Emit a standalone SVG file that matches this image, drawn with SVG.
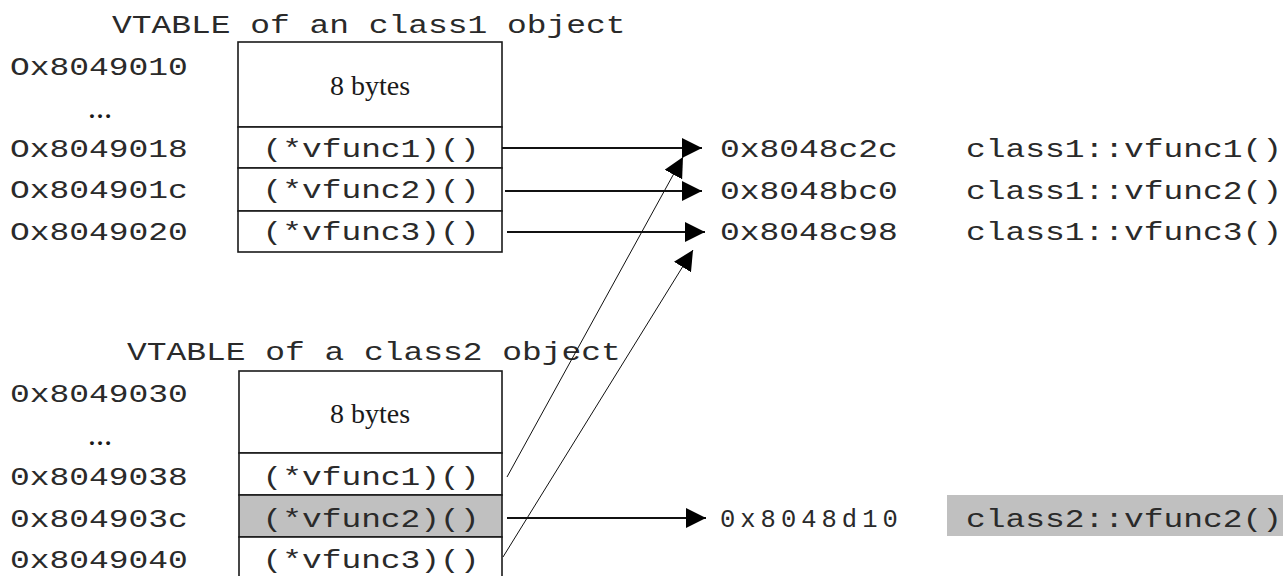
<svg xmlns="http://www.w3.org/2000/svg" width="1283" height="576" viewBox="0 0 1283 576">
  <style>
    .mono { font-family: "Liberation Mono", "DejaVu Sans Mono", monospace; font-size: 25.5px; fill: #2a2a2a; }
    .serif { font-family: "Liberation Serif", "DejaVu Serif", serif; font-size: 28px; fill: #1a1a1a; }
    .dots { font-family: "Liberation Serif", "DejaVu Serif", serif; font-size: 24px; font-weight: bold; fill: #1a1a1a; }
    .cell { fill: #ffffff; stroke: #1a1a1a; stroke-width: 1.6; }
    .hi { fill: #c0c0c0; }
    .ptr { stroke: #111; stroke-width: 1.8; fill: none; }
    .thin { stroke: #111; stroke-width: 1; fill: none; }
  </style>
  <defs>
    <marker id="head" viewBox="0 0 20 20" refX="20" refY="10" markerWidth="20" markerHeight="20" markerUnits="userSpaceOnUse" orient="auto">
      <path d="M0,0 L20,10 L0,20 Z" fill="#000"/>
    </marker>
  </defs>

  <rect width="1283" height="576" fill="#ffffff"/>

  <!-- vtable of class1 -->
  <g id="vtable1">
    <text class="mono" x="112" y="33" textLength="513.5" lengthAdjust="spacingAndGlyphs">VTABLE of an class1 object</text>
    <rect class="cell" x="238" y="42" width="264" height="85"/>
    <rect class="cell" x="238" y="127" width="264" height="41"/>
    <rect class="cell" x="238" y="168" width="264" height="43"/>
    <rect class="cell" x="238" y="211" width="264" height="41"/>
    <text class="serif" x="370" y="95" text-anchor="middle">8 bytes</text>
    <text class="mono" x="371" y="157" text-anchor="middle" textLength="217" lengthAdjust="spacingAndGlyphs">(*vfunc1)()</text>
    <text class="mono" x="371" y="198" text-anchor="middle" textLength="217" lengthAdjust="spacingAndGlyphs">(*vfunc2)()</text>
    <text class="mono" x="371" y="240" text-anchor="middle" textLength="217" lengthAdjust="spacingAndGlyphs">(*vfunc3)()</text>
    <text class="mono" x="10" y="75" textLength="177.75" lengthAdjust="spacingAndGlyphs">Ox8049010</text>
    <text class="dots" x="100" y="118" text-anchor="middle">…</text>
    <text class="mono" x="10" y="157" textLength="177.75" lengthAdjust="spacingAndGlyphs">Ox8049018</text>
    <text class="mono" x="10" y="198" textLength="177.75" lengthAdjust="spacingAndGlyphs">Ox804901c</text>
    <text class="mono" x="10" y="240" textLength="177.75" lengthAdjust="spacingAndGlyphs">Ox8049020</text>
  </g>

  <!-- vtable of class2 -->
  <g id="vtable2">
    <text class="mono" x="127" y="360" textLength="493.75" lengthAdjust="spacingAndGlyphs">VTABLE of a class2 object</text>
    <rect class="cell" x="239" y="371" width="263" height="82"/>
    <rect class="cell" x="239" y="453" width="263" height="42"/>
    <rect class="cell hi" x="239" y="495" width="263" height="42"/>
    <rect class="cell" x="239" y="537" width="263" height="44"/>
    <text class="serif" x="370" y="423" text-anchor="middle">8 bytes</text>
    <text class="mono" x="371" y="485" text-anchor="middle" textLength="217" lengthAdjust="spacingAndGlyphs">(*vfunc1)()</text>
    <text class="mono" x="371" y="527" text-anchor="middle" textLength="217" lengthAdjust="spacingAndGlyphs">(*vfunc2)()</text>
    <text class="mono" x="371" y="568" text-anchor="middle" textLength="217" lengthAdjust="spacingAndGlyphs">(*vfunc3)()</text>
    <text class="mono" x="10" y="402" textLength="177.75" lengthAdjust="spacingAndGlyphs">0x8049030</text>
    <text class="dots" x="100" y="445" text-anchor="middle">…</text>
    <text class="mono" x="10" y="485" textLength="177.75" lengthAdjust="spacingAndGlyphs">0x8049038</text>
    <text class="mono" x="10" y="527" textLength="177.75" lengthAdjust="spacingAndGlyphs">0x804903c</text>
    <text class="mono" x="10" y="568" textLength="177.75" lengthAdjust="spacingAndGlyphs">0x8049040</text>
  </g>

  <!-- function targets -->
  <g id="target-c2c">
    <text class="mono" x="720" y="157" textLength="177.75" lengthAdjust="spacingAndGlyphs">0x8048c2c</text>
    <text class="mono" x="966" y="157" textLength="316" lengthAdjust="spacingAndGlyphs">class1::vfunc1()</text>
  </g>
  <g id="target-bc0">
    <text class="mono" x="720" y="199" textLength="177.75" lengthAdjust="spacingAndGlyphs">0x8048bc0</text>
    <text class="mono" x="966" y="199" textLength="316" lengthAdjust="spacingAndGlyphs">class1::vfunc2()</text>
  </g>
  <g id="target-c98">
    <text class="mono" x="720" y="240" textLength="177.75" lengthAdjust="spacingAndGlyphs">0x8048c98</text>
    <text class="mono" x="966" y="240" textLength="316" lengthAdjust="spacingAndGlyphs">class1::vfunc3()</text>
  </g>
  <g id="target-d10">
    <rect class="hi" x="947" y="495" width="336" height="41"/>
    <text class="mono" x="720" y="527" textLength="177.75" lengthAdjust="spacing">0x8048d10</text>
    <text class="mono" x="966" y="527" textLength="316" lengthAdjust="spacingAndGlyphs">class2::vfunc2()</text>
  </g>

  <!-- pointer connectors -->
  <g id="connectors">
    <line class="ptr" x1="502" y1="148" x2="702" y2="148" marker-end="url(#head)"/>
    <line class="ptr" x1="505" y1="191" x2="702" y2="191" marker-end="url(#head)"/>
    <line class="ptr" x1="507" y1="232" x2="705" y2="232" marker-end="url(#head)"/>
    <line class="ptr" x1="507" y1="518" x2="706" y2="518" marker-end="url(#head)"/>
    <line class="thin" x1="507" y1="477" x2="683" y2="157" marker-end="url(#head)"/>
    <line class="thin" x1="503" y1="557" x2="693" y2="250" marker-end="url(#head)"/>
  </g>
</svg>
